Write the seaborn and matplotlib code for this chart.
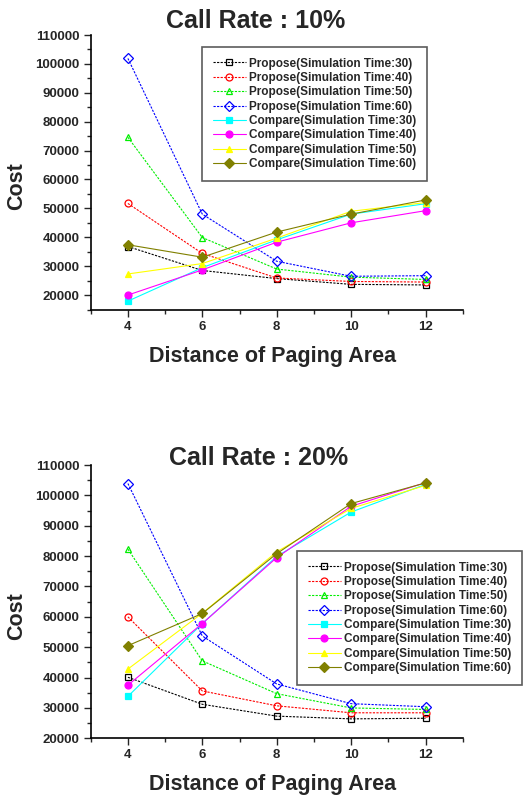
import matplotlib
matplotlib.use("Agg")
import matplotlib.pyplot as plt
import seaborn as sns
import numpy as np
import pandas as pd
from matplotlib.ticker import MultipleLocator

sns.set_theme(style="ticks")
plt.rcParams['font.family'] = ['Liberation Sans', 'DejaVu Sans']
plt.rcParams['font.weight'] = 'bold'

distance = [4, 6, 8, 10, 12]
labels = ["Propose(Simulation Time:30)", "Propose(Simulation Time:40)",
          "Propose(Simulation Time:50)", "Propose(Simulation Time:60)",
          "Compare(Simulation Time:30)", "Compare(Simulation Time:40)",
          "Compare(Simulation Time:50)", "Compare(Simulation Time:60)"]

# Call rate 10%
r10_propose30 = [36800, 28500, 25700, 23700, 23500]
r10_propose40 = [51700, 34400, 25900, 24700, 24500]
r10_propose50 = [74600, 39900, 29000, 26200, 25400]
r10_propose60 = [101900, 48000, 31700, 26500, 26700]
r10_compare30 = [17900, 29500, 39100, 48000, 51600]
r10_compare40 = [20000, 28700, 38300, 45000, 49200]
r10_compare50 = [27300, 30900, 39700, 49000, 52000]
r10_compare60 = [37400, 33100, 41800, 48000, 52900]

# Call rate 20%
r20_propose30 = [40100, 31200, 27300, 26400, 26600]
r20_propose40 = [60000, 35600, 30700, 28400, 28400]
r20_propose50 = [82300, 45500, 34700, 30000, 29500]
r20_propose60 = [103900, 53700, 37900, 31400, 30400]
r20_compare30 = [33800, 57800, 79900, 94500, 103600]
r20_compare40 = [37500, 57800, 79500, 96400, 104200]
r20_compare50 = [42800, 61200, 81400, 95700, 103300]
r20_compare60 = [50500, 61100, 80800, 97300, 104100]

colors = ["black", "#ff0000", "#00ee00", "#0000ff", "#00ffff", "#ff00ff", "#ffff00", "#808000"]
markers = ["s", "o", "^", "D", "s", "o", "^", "D"]

fig = plt.figure(figsize=(5.29, 7.96), dpi=100)
W, H = 529, 796

def make_axes(top_px, bottom_px):
    left, right = 90.7, 462.7
    return fig.add_axes([left / W, (H - bottom_px) / H, (right - left) / W, (bottom_px - top_px) / H])

def draw(ax, series, ylim, legend_pos):
    for i, (vals, lab) in enumerate(zip(series, labels)):
        propose = i < 4
        sns.lineplot(x=distance, y=vals, ax=ax, color=colors[i], marker=markers[i],
                     markersize=5.5 if markers[i] == "D" else 5,
                     linewidth=0.8,
                     linestyle=(0, (2, 1.2)) if propose else "-",
                     markerfacecolor="none" if propose else colors[i],
                     markeredgecolor=colors[i], markeredgewidth=0.9,
                     label=lab, legend=True)
    ax.set_xlim(3, 13)
    ax.set_ylim(*ylim)
    ax.set_xticks(distance)
    ax.xaxis.set_minor_locator(MultipleLocator(1))
    ax.yaxis.set_major_locator(MultipleLocator(10000))
    ax.yaxis.set_minor_locator(MultipleLocator(5000))
    ax.tick_params(which='major', direction='out', length=5, width=1, labelsize=9.5, pad=3)
    ax.tick_params(which='minor', direction='out', length=3, width=1)
    for t in ax.get_xticklabels() + ax.get_yticklabels():
        t.set_fontweight('bold')
    sns.despine(ax=ax)
    for s in ['left', 'bottom']:
        ax.spines[s].set_linewidth(1.2)
        ax.spines[s].set_color('black')
    ax.set_xlabel("")
    ax.set_ylabel("")
    leg = ax.legend(loc='upper left', bbox_to_anchor=legend_pos, bbox_transform=fig.transFigure,
                    prop={'weight': 'bold', 'size': 8.5}, frameon=True, fancybox=False,
                    edgecolor='#333333', handlelength=2.8, labelspacing=0.2,
                    borderpad=0.9, handletextpad=0.3, borderaxespad=0)
    leg.get_frame().set_linewidth(1.2)

ax1 = make_axes(35, 309.5)
draw(ax1, [r10_propose30, r10_propose40, r10_propose50, r10_propose60,
           r10_compare30, r10_compare40, r10_compare50, r10_compare60],
     (15000, 110000), (202 / W, 1 - 47 / H))

ax2 = make_axes(465, 738.3)
draw(ax2, [r20_propose30, r20_propose40, r20_propose50, r20_propose60,
           r20_compare30, r20_compare40, r20_compare50, r20_compare60],
     (20000, 110000), (297 / W, 1 - 551 / H))

# Titles and axis labels
fig.text(256 / W, 1 - 28 / H, "Call Rate : 10%", ha='center', va='baseline', fontsize=18, fontweight='bold')
fig.text(259 / W, 1 - 465 / H, "Call Rate : 20%", ha='center', va='baseline', fontsize=18, fontweight='bold')
fig.text(273 / W, 1 - 362 / H, "Distance of Paging Area", ha='center', va='baseline', fontsize=15.5, fontweight='bold')
fig.text(273 / W, 1 - 790 / H, "Distance of Paging Area", ha='center', va='baseline', fontsize=15.5, fontweight='bold')
fig.text(17 / W, 1 - 186 / H, "Cost", ha='center', va='center', rotation=90, fontsize=15.5, fontweight='bold')
fig.text(17 / W, 1 - 616 / H, "Cost", ha='center', va='center', rotation=90, fontsize=15.5, fontweight='bold')

fig.savefig("out.png", dpi=100, facecolor='white')
